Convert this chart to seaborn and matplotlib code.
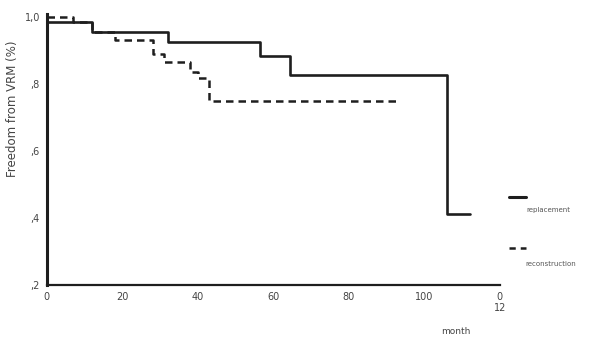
import pandas as pd
import matplotlib.pyplot as plt
import seaborn as sns
from matplotlib.lines import Line2D

# Kaplan-Meier steps
repl_month = [0, 12, 32, 56.5, 64.5, 106, 112]
repl_surv = [0.985, 0.955, 0.925, 0.883, 0.826, 0.41, 0.41]

recon_month = [0, 7, 12, 18, 28, 31, 38, 40, 43, 93]
recon_surv = [1.0, 0.985, 0.955, 0.93, 0.89, 0.866, 0.835, 0.817, 0.75, 0.75]

x_ticks = [0, 20, 40, 60, 80, 100, 120]
x_ticklabels = ["0", "20", "40", "60", "80", "100", "0\n12"]
y_ticks = [0.2, 0.4, 0.6, 0.8, 1.0]
y_ticklabels = [",2", ",4", ",6", ",8", "1,0"]

df = pd.concat([
    pd.DataFrame({"month": repl_month, "surv": repl_surv, "group": "replacement"}),
    pd.DataFrame({"month": recon_month, "surv": recon_surv, "group": "reconstruction"}),
])

sns.set_style("white")
plt.rcParams['font.family'] = ['DejaVu Sans']
ink = "#1e1e1e"

fig = plt.figure(figsize=(6, 3.39), dpi=100)
ax = fig.add_axes([0.078, 0.16, 0.755, 0.80])

sns.lineplot(data=df[df.group == "replacement"], x="month", y="surv",
             drawstyle="steps-post", color=ink, lw=1.9, ax=ax, errorbar=None)
sns.lineplot(data=df[df.group == "reconstruction"], x="month", y="surv",
             drawstyle="steps-post", color=ink, lw=1.8, ax=ax, errorbar=None,
             linestyle=(0, (3, 2)))

ax.set_xlim(0, 120)
ax.set_ylim(0.2, 1.01)
ax.set_xticks(x_ticks)
ax.set_xticklabels(x_ticklabels, fontsize=7, color="#444")
ax.set_yticks(y_ticks)
ax.set_yticklabels(y_ticklabels, fontsize=7, color="#444")
ax.tick_params(length=2, width=1, color=ink, pad=3)
for s in ["top", "right"]:
    ax.spines[s].set_visible(False)
ax.spines["left"].set_linewidth(2.2)
ax.spines["bottom"].set_linewidth(1.6)
ax.spines["left"].set_color(ink)
ax.spines["bottom"].set_color(ink)
ax.set_xlabel("")
ax.set_ylabel("Freedom from VRM (%)", fontsize=8.5, color="#444")
ax.yaxis.set_label_coords(-0.062, 0.65)
fig.text(0.76, 0.015, "month", fontsize=6.5, color="#444", ha="center")

# legend: short line above label, as in the scan
fig.add_artist(Line2D([0.848, 0.877], [0.418, 0.418], color=ink, lw=2.2))
fig.text(0.878, 0.375, "replacement", fontsize=5, color="#555", ha="left")
fig.add_artist(Line2D([0.848, 0.877], [0.267, 0.267], color=ink, lw=1.8,
                      linestyle=(0, (2.5, 2))))
fig.text(0.875, 0.215, "reconstruction", fontsize=5, color="#555", ha="left")

fig.savefig("out.png", dpi=100)
